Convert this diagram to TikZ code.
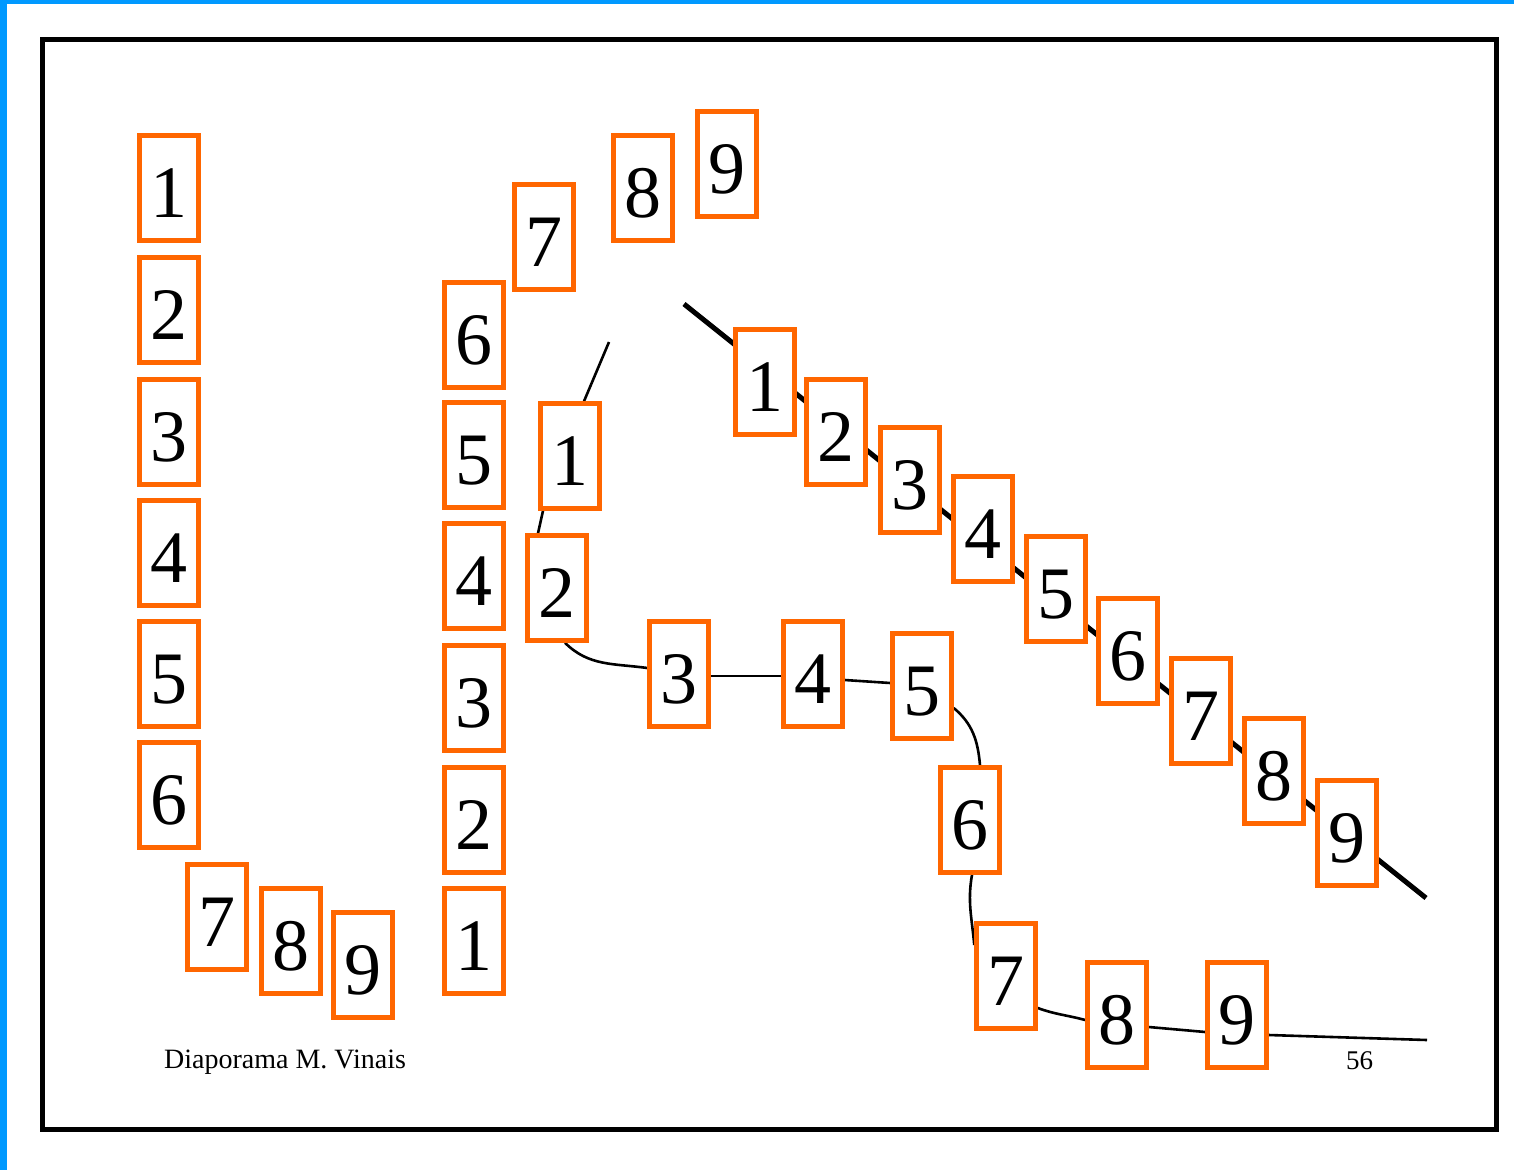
\documentclass[tikz,border=0pt]{standalone}
\usepackage{fontspec}
\setmainfont{Liberation Serif}
\usetikzlibrary{backgrounds}
\definecolor{frameblue}{RGB}{0,153,255}
\definecolor{boxorange}{RGB}{255,102,0}
\tikzset{
  numbox/.style={draw=boxorange, line width=4.5pt, fill=white, minimum width=59pt, minimum height=105pt, inner sep=0pt, text height=58pt, text depth=0pt, font=\fontsize{74}{74}\selectfont},
  thincurve/.style={draw=black, line width=2.6pt},
  thickline/.style={draw=black, line width=5pt},
  foottext/.style={anchor=base west, inner sep=0pt, font=\fontsize{28}{28}\selectfont}
}
\begin{document}
\begin{tikzpicture}[x=1pt,y=-1pt]
\useasboundingbox (0,0) rectangle (1514,1170);
% blue frame strips
\fill[frameblue] (0,0) rectangle (7,1170);
\fill[frameblue] (0,0) rectangle (1514,4);
% black frame
\draw[line width=5pt] (42.5,39) rectangle (1496,1129);

% left column
\node[numbox] (L1) at (169,188) {1};
\node[numbox] (L2) at (169,310) {2};
\node[numbox] (L3) at (169,432) {3};
\node[numbox] (L4) at (169,553) {4};
\node[numbox] (L5) at (169,674) {5};
\node[numbox] (L6) at (169,795) {6};
\node[numbox] (L7) at (217,917) {7};
\node[numbox] (L8) at (291,941) {8};
\node[numbox] (L9) at (363,965) {9};

% second column
\node[numbox] (M1) at (474,941) {1};
\node[numbox] (M2) at (474,820) {2};
\node[numbox] (M3) at (474,698) {3};
\node[numbox] (M4) at (474,576) {4};
\node[numbox] (M5) at (474,455) {5};
\node[numbox] (M6) at (474,335) {6};
\node[numbox] (M7) at (544,237) {7};
\node[numbox] (M8) at (643,188) {8};
\node[numbox] (M9) at (727,164) {9};

% curve boxes
\node[numbox] (C1) at (570,456) {1};
\node[numbox] (C2) at (557,588) {2};
\node[numbox] (C3) at (679,674) {3};
\node[numbox] (C4) at (813,674) {4};
\node[numbox] (C5) at (922,686) {5};
\node[numbox] (C6) at (970,820) {6};
\node[numbox] (C7) at (1006,976) {7};
\node[numbox] (C8) at (1117,1015) {8};
\node[numbox] (C9) at (1237,1015) {9};

% diagonal boxes
\node[numbox] (D1) at (765,382) {1};
\node[numbox] (D2) at (836,432) {2};
\node[numbox] (D3) at (910,480) {3};
\node[numbox] (D4) at (983,529) {4};
\node[numbox] (D5) at (1056,589) {5};
\node[numbox] (D6) at (1128,651) {6};
\node[numbox] (D7) at (1201,711) {7};
\node[numbox] (D8) at (1274,771) {8};
\node[numbox] (D9) at (1347,833) {9};

% free ends
\coordinate (s0) at (609,342);
\coordinate (e0) at (1427,1040);
\coordinate (d0) at (684,304);
\coordinate (d1) at (1426,898);

\begin{scope}[on background layer]
  \draw[thickline] (d0) -- (d1);
  \draw[thincurve] (s0) -- ([xshift=14pt]C1.north);
  \draw[thincurve] ([xshift=-27pt]C1.south) -- ([xshift=-19pt]C2.north);
  \draw[thincurve] ([xshift=8pt]C2.south) to[out=-45,in=172] ([yshift=6pt]C3.west);
  \draw[thincurve] ([yshift=-2pt]C3.east) -- ([yshift=-2pt]C4.west);
  \draw[thincurve] ([yshift=-6pt]C4.east) -- ([yshift=3pt]C5.west);
  \draw[thincurve] ([yshift=-22pt]C5.east) to[out=-40,in=95] ([xshift=10pt]C6.north);
  \draw[thincurve] ([xshift=2pt]C6.south) to[out=-100,in=95] ([yshift=31pt]C7.west);
  \draw[thincurve] ([yshift=-32pt]C7.east) to[out=-20,in=165] ([yshift=-5pt]C8.west);
  \draw[thincurve] ([yshift=-12pt]C8.east) -- ([yshift=-17pt]C9.west);
  \draw[thincurve] ([yshift=-20pt]C9.east) -- (e0);
\end{scope}

% footer
\node[foottext] (foot) at (164,1068) {Diaporama M. Vinais};
\node[foottext, font=\fontsize{27}{27}\selectfont] (page) at (1346,1069) {56};
\end{tikzpicture}
\end{document}
